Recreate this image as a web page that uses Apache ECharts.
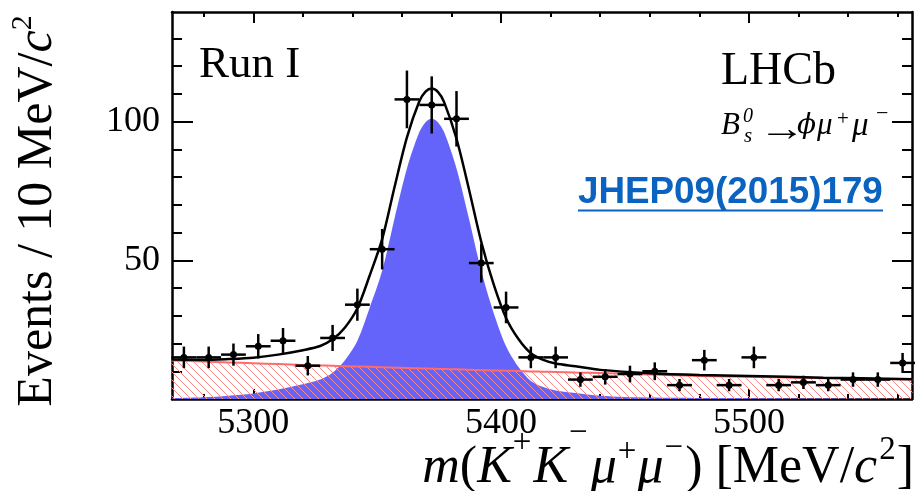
<!DOCTYPE html>
<html>
<head>
<meta charset="utf-8">
<script src="https://cdn.jsdelivr.net/npm/echarts@6/dist/echarts.min.js"></script>
<style>
html,body{margin:0;padding:0;background:#fff;}
#chart{width:918px;height:491px;}
</style>
</head>
<body>
<div id="chart"></div>
<script>
// ---- data ----
const binCenters = [5272,5282,5292,5302,5312,5322,5332,5342,5352,5362,5372,5382,5392,5402,5412,5422,5432,5442,5452,5462,5472,5482,5492,5502,5512,5522,5532,5542,5552,5562];
const counts = [15,15,16,19,21,12,22,34,54,108,106,101,49,33,15,15,7,8,9,10,5,14,5,15,5,6,5,7,7,13];
const countErrors = [3.9,3.9,4.0,4.4,4.6,3.5,4.7,5.8,7.3,10.4,10.3,10.0,7.0,5.7,3.9,3.9,2.6,2.8,3.0,3.2,2.2,3.7,2.2,3.9,2.2,2.4,2.2,2.6,2.6,3.6];
const binHalfWidth = 5;

const curveMass = [5267,5280,5290,5300,5310,5320,5327,5332,5337,5342,5347,5352,5357,5362,5367,5369.5,5372,5374.5,5377,5382,5387,5392,5397,5402,5407,5412,5417,5422,5430,5440,5460,5480,5500,5530,5566];
const signalCurve = [0.3,0.6,1.2,2.0,3.4,5.3,7.0,9.5,14,21,33,46.2,65.1,83.1,96.2,99.8,101,99.8,96.2,83.1,65.1,46.2,31,19,11.5,6.5,4.3,3.1,2.2,1.2,0.5,0.35,0.3,0.2,0.15];
const backgroundCurve = [13.9,13.5,13.2,12.9,12.6,12.3,12.1,12.0,11.8,11.7,11.6,11.4,11.3,11.2,11.05,11.0,10.9,10.85,10.8,10.7,10.55,10.4,10.3,10.2,10.1,9.95,9.85,9.75,9.55,9.35,8.8,8.3,8.0,7.5,7.0];
const totalCurve = [14.2,14.1,14.4,14.9,16.0,17.6,19.1,21.5,25.8,32.7,44.6,57.6,76.4,94.3,107.3,110.8,111.9,110.7,107.0,93.8,75.7,56.6,41.3,29.2,21.6,16.5,14.1,12.8,11.8,10.5,9.3,8.65,8.3,7.7,7.15];

const xMajorTicks = [5300, 5400, 5500];
const xMinorTicks = [5280,5320,5340,5360,5380,5420,5440,5460,5480,5520,5540,5560];
const yMajorTicks = [50, 100];
const yMinorTicks = [10,20,30,40,60,70,80,90,110,120,130];

const X_MIN = 5267.2, X_MAX = 5565.8, Y_MIN = 0, Y_MAX = 139.5;

// ---- styles ----
const SERIF = 'Liberation Serif';
const BLACK = '#000';

function makeHatch() {
  const s = 8;
  const c = document.createElement('canvas');
  c.width = s; c.height = s;
  const g = c.getContext('2d');
  g.strokeStyle = '#ff8a8a';
  g.lineWidth = 1;
  g.beginPath();
  g.moveTo(-1, -1); g.lineTo(s + 1, s + 1);
  g.moveTo(-1, s - 1); g.lineTo(1, s + 1);
  g.moveTo(s - 1, -1); g.lineTo(s + 1, 1);
  g.stroke();
  return c;
}
const hatch = makeHatch();

function axisDef(kind, position, ticks, tickLen, labels, withLine) {
  const isX = kind === 'x';
  const a = {
    type: 'value', position: position,
    min: isX ? X_MIN : Y_MIN, max: isX ? X_MAX : Y_MAX,
    axisLine: { show: withLine, onZero: false, lineStyle: { color: BLACK, width: 2.5 } },
    axisTick: { show: true, inside: true, length: tickLen, customValues: ticks, lineStyle: { color: BLACK, width: 2 } },
    axisLabel: { show: false },
    splitLine: { show: false },
    minorTick: { show: false },
    minorSplitLine: { show: false }
  };
  if (labels) {
    a.axisLabel = {
      show: true, customValues: labels, margin: isX ? 7 : 12,
      fontFamily: SERIF, fontStyle: 'normal', fontWeight: 'normal', fontSize: 36, color: BLACK,
      formatter: function (v) { return String(v); }
    };
  }
  return a;
}

function txt(x, y, text, size, opts) {
  opts = opts || {};
  const el = {
    type: 'text', x: x, y: y, z: 10,
    style: {
      text: text, fontFamily: opts.family || SERIF, fontSize: size,
      fontStyle: opts.italic ? 'italic' : 'normal', fontWeight: opts.bold ? 'bold' : 'normal',
      fill: opts.color || BLACK, align: opts.align || 'left', verticalAlign: 'middle'
    }
  };
  if (opts.scaleX) el.scaleX = opts.scaleX;
  return el;
}

const chart = echarts.init(document.getElementById('chart'), null, { renderer: 'canvas' });

const option = {
  animation: false,
  backgroundColor: '#fff',
  textStyle: { fontFamily: SERIF },
  grid: { left: 172, right: 6, top: 12, bottom: 92, containLabel: false },
  xAxis: [
    axisDef('x', 'bottom', xMajorTicks, 10, xMajorTicks, true),
    axisDef('x', 'bottom', xMinorTicks, 5, null, false),
    axisDef('x', 'top', xMajorTicks, 11, null, true),
    axisDef('x', 'top', xMinorTicks, 5, null, false)
  ],
  yAxis: [
    axisDef('y', 'left', yMajorTicks, 21, yMajorTicks, true),
    axisDef('y', 'left', yMinorTicks, 10, null, false),
    axisDef('y', 'right', yMajorTicks, 20, null, true),
    axisDef('y', 'right', yMinorTicks, 10, null, false)
  ],
  series: [
    {
      name: 'signal', type: 'line', xAxisIndex: 0, yAxisIndex: 0, z: 1,
      data: curveMass.map(function (m, i) { return [m, signalCurve[i]]; }),
      smooth: 0.3, symbol: 'none', silent: true,
      lineStyle: { width: 0 },
      areaStyle: { color: '#6464fa', opacity: 1 }
    },
    {
      name: 'background', type: 'line', xAxisIndex: 0, yAxisIndex: 0, z: 2,
      data: curveMass.map(function (m, i) { return [m, backgroundCurve[i]]; }),
      smooth: 0.3, symbol: 'none', silent: true,
      lineStyle: { color: '#ff6b6b', width: 2 },
      areaStyle: { color: { image: hatch, repeat: 'repeat' }, opacity: 1 }
    },
    {
      name: 'total', type: 'line', xAxisIndex: 0, yAxisIndex: 0, z: 3,
      data: curveMass.map(function (m, i) { return [m, totalCurve[i]]; }),
      smooth: 0.3, symbol: 'none', silent: true,
      lineStyle: { color: BLACK, width: 2.5 }
    },
    {
      name: 'data', type: 'custom', xAxisIndex: 0, yAxisIndex: 0, z: 4,
      data: binCenters.map(function (m, i) { return [m, counts[i], countErrors[i]]; }),
      renderItem: function (params, api) {
        const x = api.value(0), y = api.value(1), e = api.value(2);
        const c = api.coord([x, y]);
        const l = api.coord([x - binHalfWidth, y]);
        const r = api.coord([x + binHalfWidth, y]);
        const t = api.coord([x, y + e]);
        const b = api.coord([x, y - e]);
        const st = { stroke: BLACK, lineWidth: 2.5 };
        return {
          type: 'group',
          children: [
            { type: 'line', shape: { x1: l[0], y1: c[1], x2: r[0], y2: c[1] }, style: st },
            { type: 'line', shape: { x1: c[0], y1: t[1], x2: c[0], y2: b[1] }, style: st },
            { type: 'circle', shape: { cx: c[0], cy: c[1], r: 3.5 }, style: { fill: BLACK } }
          ]
        };
      }
    }
  ],
  graphic: [
    txt(199, 64.8, 'Run I', 45),
    txt(721, 71.5, 'LHCb', 46),
    // B_s^0 -> phi mu+ mu-
    txt(721, 126, 'B', 31, { italic: true }),
    txt(743, 117, '0', 20, { italic: true }),
    txt(744, 136, 's', 21, { italic: true }),
    txt(759, 131, '→', 36, { scaleX: 1.3 }),
    txt(797, 126, 'ϕ', 28, { italic: true, family: 'DejaVu Serif' }),
    txt(817, 126, 'μ', 31, { italic: true }),
    txt(837, 119, '+', 21),
    txt(852, 126, 'μ', 33, { italic: true }),
    txt(876, 114, '−', 22),
    // reference
    txt(578, 192.4, 'JHEP09(2015)179', 36.8, { family: 'Liberation Sans', bold: true, color: '#0b63c1' }),
    { type: 'line', z: 10, shape: { x1: 578, y1: 210.5, x2: 883, y2: 210.5 }, style: { stroke: '#0b63c1', lineWidth: 2.2 } },
    // x title
    { type: 'text', x: 914, y: 468.5, z: 10,
      style: {
        text: '{i|m}({i|K}{supK|+}{i|K}{supK2|−}{i|μ}{supM|+}{i|μ}{supM2|−}) [MeV/{i|c}{supC|2}]',
        fontFamily: SERIF, fontSize: 52, fill: BLACK, align: 'right', verticalAlign: 'middle',
        rich: {
          i: { fontFamily: SERIF, fontStyle: 'italic', fontSize: 52, fill: BLACK },
          supK: { fontFamily: SERIF, fontSize: 33, fill: BLACK, padding: [0, 2, 50, 1] },
          supK2: { fontFamily: SERIF, fontSize: 33, fill: BLACK, padding: [0, 3, 70, 1] },
          supM: { fontFamily: SERIF, fontSize: 33, fill: BLACK, padding: [0, 1, 32, 1] },
          supM2: { fontFamily: SERIF, fontSize: 33, fill: BLACK, padding: [0, 2, 40, 1] },
          supC: { fontFamily: SERIF, fontSize: 33, fill: BLACK, padding: [0, 1, 36, 2] }
        }
      } },
    // y title
    { type: 'text', x: 38, y: 211, rotation: Math.PI / 2, z: 10,
      style: {
        text: 'Events / 10 MeV/{i|c}{sup|2}',
        fontFamily: SERIF, fontSize: 50, fill: BLACK, align: 'center', verticalAlign: 'middle',
        rich: {
          i: { fontFamily: SERIF, fontStyle: 'italic', fontSize: 50, fill: BLACK },
          sup: { fontFamily: SERIF, fontSize: 30, fill: BLACK, padding: [0, 0, 30, 0] }
        }
      } }
  ]
};

chart.setOption(option);
</script>
</body>
</html>
